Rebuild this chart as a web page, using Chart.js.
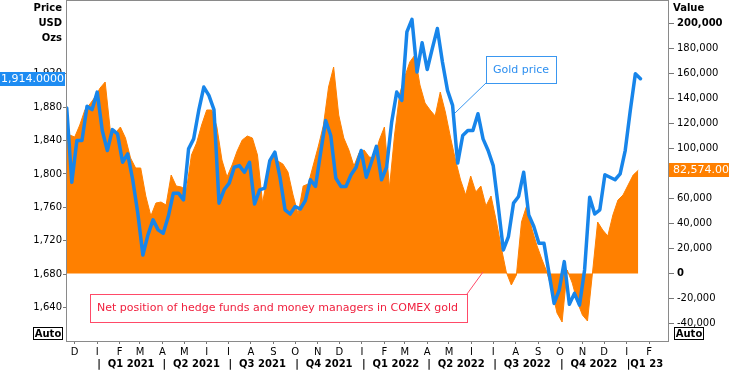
<!DOCTYPE html>
<html><head><meta charset="utf-8">
<script src="https://cdn.jsdelivr.net/npm/chart.js@4.4.1/dist/chart.umd.min.js"></script>
<style>html,body{margin:0;padding:0;background:#fff;}canvas{display:block;}</style>
</head><body>
<canvas id="c" width="729" height="371"></canvas>
<script>
// Weekly observation dates (Fridays). COT positions are as of the Tuesday of each week.
const weeks = [
'2020-11-20','2020-11-27','2020-12-04','2020-12-11','2020-12-18','2020-12-25',
'2021-01-01','2021-01-08','2021-01-15','2021-01-22','2021-01-29','2021-02-05','2021-02-12','2021-02-19','2021-02-26',
'2021-03-05','2021-03-12','2021-03-19','2021-03-26','2021-04-02','2021-04-09','2021-04-16','2021-04-23','2021-04-30',
'2021-05-07','2021-05-14','2021-05-21','2021-05-28','2021-06-04','2021-06-11','2021-06-18','2021-06-25',
'2021-07-02','2021-07-09','2021-07-16','2021-07-23','2021-07-30','2021-08-06','2021-08-13','2021-08-20','2021-08-27',
'2021-09-03','2021-09-10','2021-09-17','2021-09-24','2021-10-01','2021-10-08','2021-10-15','2021-10-22','2021-10-29',
'2021-11-05','2021-11-12','2021-11-19','2021-11-26','2021-12-03','2021-12-10','2021-12-17','2021-12-24','2021-12-31',
'2022-01-07','2022-01-14','2022-01-21','2022-01-28','2022-02-04','2022-02-11','2022-02-18','2022-02-25',
'2022-03-04','2022-03-11','2022-03-18','2022-03-25','2022-04-01','2022-04-08','2022-04-15','2022-04-22','2022-04-29',
'2022-05-06','2022-05-13','2022-05-20','2022-05-27','2022-06-03','2022-06-10','2022-06-17','2022-06-24',
'2022-07-01','2022-07-08','2022-07-15','2022-07-22','2022-07-29','2022-08-05','2022-08-12','2022-08-19','2022-08-26',
'2022-09-02','2022-09-09','2022-09-16','2022-09-23','2022-09-30','2022-10-07','2022-10-14','2022-10-21','2022-10-28',
'2022-11-04','2022-11-11','2022-11-18','2022-11-25','2022-12-02','2022-12-09','2022-12-16','2022-12-23','2022-12-30',
'2023-01-06','2023-01-13','2023-01-20'];
const cotLagDays = 3;

// Gold price, USD/oz
const goldPrice = [
1879,1790,1840,1840,1881,1877,1898,1852,1828,1853,
1848,1814,1824,1793,1753,1703,1727,1745,1733,1729,
1749,1777,1777,1769,1830,1842,1876,1904,1894,1877,
1765,1781,1789,1808,1810,1802,1814,1764,1781,1783,
1816,1826,1796,1757,1752,1761,1758,1768,1793,1785,
1825,1864,1846,1795,1785,1785,1799,1808,1828,1796,
1814,1833,1793,1808,1862,1898,1888,1970,1985,1922,
1957,1925,1950,1974,1934,1900,1882,1813,1846,1852,
1852,1872,1842,1828,1810,1761,1709,1725,1765,1773,
1802,1751,1737,1717,1717,1681,1645,1661,1695,1644,
1657,1643,1685,1772,1752,1757,1799,1796,1793,1800,
1828,1876,1920,1914];

// Net position of hedge funds and money managers, contracts
const netPosition = [
134000,110800,109200,118800,130800,135600,141200,148400,153200,114800,
112400,117200,108400,92400,84400,84400,62000,46000,56400,57200,
54800,78800,70000,69200,66800,94800,104400,118800,130800,130800,
117200,90800,77200,86800,98000,106800,110000,108400,94800,56400,
78800,94800,90000,87600,81200,62800,47600,70000,71600,86800,
102000,118800,149200,165200,126800,108400,98800,86000,96400,98800,
93200,92400,106800,117200,68400,110800,143600,157200,169200,174800,
150800,136400,130800,126000,145200,129200,109200,90800,74800,62800,
78000,65200,70000,54000,62000,42800,21200,1200,-9200,-1200,
41200,54000,36400,22800,11600,1200,-13200,-31600,-38800,2800,
-7600,-22800,-33200,-38000,1200,41200,34800,30000,46800,58800,
62800,70800,78800,82574];

const xRange = ['2020-11-19','2023-02-27'];
const monthTicks = ['2020-12-01','2021-01-01','2021-02-01','2021-03-01','2021-04-01','2021-05-01','2021-06-01',
'2021-07-01','2021-08-01','2021-09-01','2021-10-01','2021-11-01','2021-12-01','2022-01-01','2022-02-01',
'2022-03-01','2022-04-01','2022-05-01','2022-06-01','2022-07-01','2022-08-01','2022-09-01','2022-10-01',
'2022-11-01','2022-12-01','2023-01-01','2023-02-01'];
const monthLabels = ['D','J','F','M','A','M','J','J','A','S','O','N','D','J','F','M','A','M','J','J','A','S','O','N','D','J','F'];
const quarterTicks = ['2021-01-01','2021-04-01','2021-07-01','2021-10-01','2022-01-01','2022-04-01','2022-07-01','2022-10-01','2023-01-01'];
const quarterLabels = ['Q1 2021','Q2 2021','Q3 2021','Q4 2021','Q1 2022','Q2 2022','Q3 2022','Q4 2022','Q1 23'];
const priceRange = [1600, 2007];
const priceTicks = [1640,1680,1720,1760,1800,1840,1880,1920];
const netRange = [-54000, 218000];
const netTicks = [-40000,-20000,0,20000,40000,60000,80000,100000,120000,140000,160000,180000,200000];
const netBoldTicks = [0, 200000];
const leftHeader = ['Price','USD','Ozs'];
const rightHeader = 'Value';
const goldNote = 'Gold price';
const netNote = 'Net position of hedge funds and money managers in COMEX gold';

const F = "'DejaVu Sans', sans-serif";
const BLUE = '#1785ea';
const ORANGE = '#ff8000';

const dayNum = s => Date.UTC(+s.slice(0,4), +s.slice(5,7)-1, +s.slice(8,10)) / 864e5;
const commas = v => { const s = String(Math.abs(Math.trunc(v))).replace(/\B(?=(\d{3})+(?!\d))/g, ','); return (v < 0 ? '-' : '') + s; };
const fmtDec = (v, d) => { const f = Math.abs(v).toFixed(d).split('.'); return (v<0?'-':'') + commas(+f[0]) + '.' + f[1]; };

const goldData = weeks.map((w, i) => ({x: dayNum(w), y: goldPrice[i]}));
const netData = weeks.map((w, i) => ({x: dayNum(w) - cotLagDays, y: netPosition[i]}));

const overlay = {
  id: 'overlay',
  afterDraw(chart) {
    const {ctx, chartArea: a, scales} = chart;
    ctx.save();
    // frame
    ctx.strokeStyle = '#8a8a8a'; ctx.lineWidth = 1;
    ctx.strokeRect(a.left + 0.5, a.top - 0.5, a.right - a.left, a.bottom - a.top + 1);
    // headers
    ctx.fillStyle = '#000'; ctx.font = 'bold 10px ' + F; ctx.textBaseline = 'middle';
    ctx.textAlign = 'right';
    leftHeader.forEach((t, i) => ctx.fillText(t, a.left - 4, 8 + i * 15));
    ctx.textAlign = 'left';
    ctx.fillText(rightHeader, a.right + 5, 8);
    // last value boxes
    const lp = goldPrice[goldPrice.length - 1];
    const py = Math.round(scales.y.getPixelForValue(lp));
    ctx.fillStyle = '#1e8cf2'; ctx.fillRect(0, py - 7, a.left - 1, 14);
    ctx.fillStyle = '#fff'; ctx.font = '11px ' + F; ctx.textAlign = 'right';
    ctx.fillText(fmtDec(lp, 4), a.left - 2, py);
    const ln = netPosition[netPosition.length - 1];
    const ny = Math.round(scales.y2.getPixelForValue(ln));
    ctx.fillStyle = ORANGE; ctx.fillRect(a.right + 1, ny - 7, chart.width - a.right, 14);
    ctx.fillStyle = '#fff'; ctx.textAlign = 'left';
    ctx.fillText(fmtDec(ln, 3), a.right + 5, ny);
    // Auto boxes
    ctx.font = 'bold 10px ' + F; ctx.lineWidth = 1; ctx.strokeStyle = '#000';
    [[33, 327], [a.right + 6, 327]].forEach(([bx, by]) => {
      ctx.fillStyle = '#fff'; ctx.fillRect(bx, by, 29, 12);
      ctx.strokeRect(bx + 0.5, by + 0.5, 29, 12);
      ctx.fillStyle = '#000'; ctx.textAlign = 'center';
      ctx.fillText('Auto', bx + 15, by + 7);
    });
    // Gold price note
    ctx.strokeStyle = '#3a97f0'; ctx.lineWidth = 1;
    ctx.beginPath(); ctx.moveTo(486, 83); ctx.lineTo(455, 113); ctx.stroke();
    ctx.fillStyle = '#fff'; ctx.fillRect(486, 56, 70, 27);
    ctx.strokeRect(486.5, 56.5, 70, 27);
    ctx.fillStyle = '#2d8ff0'; ctx.font = '11px ' + F; ctx.textAlign = 'center';
    ctx.fillText(goldNote, 521, 70);
    // Net position note
    ctx.strokeStyle = '#ff4a68';
    ctx.beginPath(); ctx.moveTo(467, 294); ctx.lineTo(483, 272); ctx.stroke();
    ctx.fillStyle = '#fff'; ctx.fillRect(90, 294, 377, 28);
    ctx.strokeRect(90.5, 294.5, 377, 28);
    ctx.fillStyle = '#f0203e'; ctx.textAlign = 'left';
    ctx.fillText(netNote, 97, 308);
    ctx.restore();
  }
};

const tickFont = {family: F, size: 10};
new Chart(document.getElementById('c'), {
  type: 'line',
  data: { datasets: [
    { label: 'Gold price', data: goldData, xAxisID: 'x', yAxisID: 'y', borderColor: BLUE, borderWidth: 3.5,
      pointRadius: 0, fill: false, tension: 0, order: 0, borderJoinStyle: 'round', borderCapStyle: 'round' },
    { label: 'Net position', data: netData, xAxisID: 'x', yAxisID: 'y2', borderColor: ORANGE, backgroundColor: ORANGE,
      borderWidth: 1, pointRadius: 0, fill: 'origin', tension: 0, order: 1 }
  ]},
  options: {
    responsive: false, animation: false, devicePixelRatio: 1, events: [],
    layout: { padding: { top: 1, left: 0, right: 0, bottom: 0 } },
    plugins: { legend: { display: false }, tooltip: { enabled: false } },
    scales: {
      x: { type: 'linear', position: 'bottom', weight: 0, min: dayNum(xRange[0]), max: dayNum(xRange[1]),
        afterBuildTicks: s => { s.ticks = monthTicks.map(d => ({value: dayNum(d)})); },
        afterFit: s => { s.height = 14; s.paddingLeft = 0; s.paddingRight = 0; },
        grid: { display: true, drawOnChartArea: false, drawTicks: true, tickLength: 3, color: '#777' },
        border: { display: false },
        ticks: { autoSkip: false, maxRotation: 0, minRotation: 0, padding: 2, color: '#000', font: tickFont,
          callback: (v, i) => monthLabels[i] } },
      x2: { type: 'linear', position: 'bottom', weight: 1, min: dayNum(xRange[0]), max: dayNum(xRange[1]),
        afterBuildTicks: s => { s.ticks = quarterTicks.map(d => ({value: dayNum(d)})); },
        afterFit: s => { s.height = 16; s.paddingLeft = 0; s.paddingRight = 0; },
        grid: { display: false, drawTicks: false }, border: { display: false },
        ticks: { autoSkip: false, maxRotation: 0, minRotation: 0, align: 'start', padding: 3, color: '#000',
          font: {family: F, size: 10, weight: 'bold'},
          callback: (v, i) => (i === quarterLabels.length - 1 ? '|' : '|  ') + quarterLabels[i] } },
      y: { type: 'linear', position: 'left', min: priceRange[0], max: priceRange[1],
        afterBuildTicks: s => { s.ticks = priceTicks.map(v => ({value: v})); },
        afterFit: s => { s.width = 66; s.paddingTop = 0; s.paddingBottom = 0; },
        grid: { drawOnChartArea: false, drawTicks: true, tickLength: 3, color: '#777' }, border: { display: false },
        ticks: { autoSkip: false, padding: 1, color: '#000', font: tickFont, callback: v => commas(v) } },
      y2: { type: 'linear', position: 'right', min: netRange[0], max: netRange[1],
        afterBuildTicks: s => { s.ticks = netTicks.map(v => ({value: v})); },
        afterFit: s => { s.width = 61; s.paddingTop = 0; s.paddingBottom = 0; },
        grid: { drawOnChartArea: false, drawTicks: true, tickLength: 6, color: '#777' }, border: { display: false },
        ticks: { autoSkip: false, padding: 3, color: '#000',
          font: ctx => ({family: F, size: 10, weight: (ctx.tick && netBoldTicks.includes(ctx.tick.value)) ? 'bold' : 'normal'}),
          callback: v => commas(v) } }
    }
  },
  plugins: [overlay]
});
</script>
</body></html>
